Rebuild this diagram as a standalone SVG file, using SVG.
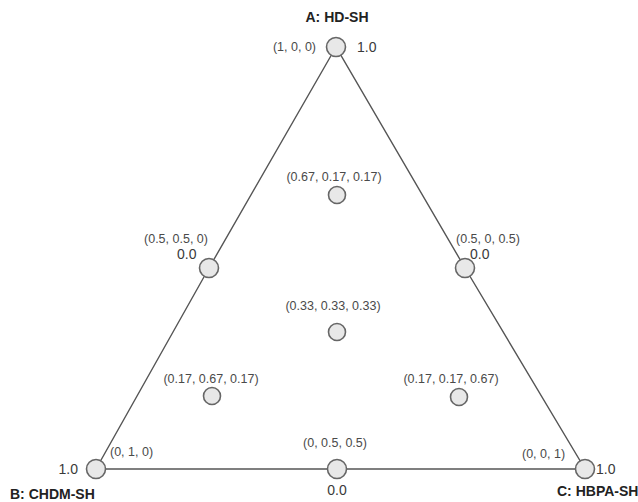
<svg xmlns="http://www.w3.org/2000/svg" width="638" height="502" viewBox="0 0 638 502">
<style>
  .edge{fill:none;stroke:#555;stroke-width:1.4}
  .pt{fill:#e8e8e8;stroke:#666;stroke-width:1.6}
  .co{font-family:"Liberation Sans",Arial,sans-serif;font-size:12.5px;fill:#4a4a4a}
  .val{font-family:"Liberation Sans",Arial,sans-serif;font-size:14px;fill:#3a3a3a}
  .ttl{font-family:"Liberation Sans",Arial,sans-serif;font-size:14px;font-weight:bold;fill:#222}
</style>
<rect width="638" height="502" fill="#fff"/>
<g id="connectors">
  <path class="edge" d="M336,47 L209,268 L96,469 L337,469 L585,469 L465,268 Z"/>
</g>
<g id="A">
  <text class="ttl" x="337" y="22" text-anchor="middle">A: HD-SH</text>
  <text class="co" x="316" y="51" text-anchor="end">(1, 0, 0)</text>
  <text class="val" x="357" y="52">1.0</text>
  <circle class="pt" cx="336" cy="47" r="9.5"/>
</g>
<g id="P1">
  <text class="co" x="334" y="181" text-anchor="middle">(0.67, 0.17, 0.17)</text>
  <circle class="pt" cx="337" cy="195" r="8.5"/>
</g>
<g id="AB">
  <text class="co" x="176" y="243" text-anchor="middle">(0.5, 0.5, 0)</text>
  <text class="val" x="177" y="259">0.0</text>
  <circle class="pt" cx="209" cy="268" r="9.5"/>
</g>
<g id="AC">
  <text class="co" x="488" y="243" text-anchor="middle">(0.5, 0, 0.5)</text>
  <text class="val" x="470" y="259">0.0</text>
  <circle class="pt" cx="465" cy="268" r="9.5"/>
</g>
<g id="P2">
  <text class="co" x="333" y="310" text-anchor="middle">(0.33, 0.33, 0.33)</text>
  <circle class="pt" cx="337" cy="332" r="8.5"/>
</g>
<g id="P3">
  <text class="co" x="211" y="383" text-anchor="middle">(0.17, 0.67, 0.17)</text>
  <circle class="pt" cx="212" cy="396" r="8.5"/>
</g>
<g id="P4">
  <text class="co" x="451" y="383" text-anchor="middle">(0.17, 0.17, 0.67)</text>
  <circle class="pt" cx="459" cy="397" r="8.5"/>
</g>
<g id="B">
  <text class="co" x="110" y="456">(0, 1, 0)</text>
  <text class="val" x="78" y="474" text-anchor="end">1.0</text>
  <text class="ttl" x="10" y="499">B: CHDM-SH</text>
  <circle class="pt" cx="96" cy="469" r="9.5"/>
</g>
<g id="BC">
  <text class="co" x="335" y="447" text-anchor="middle">(0, 0.5, 0.5)</text>
  <text class="val" x="337" y="495" text-anchor="middle">0.0</text>
  <circle class="pt" cx="337" cy="469" r="9.5"/>
</g>
<g id="C">
  <text class="co" x="522" y="458">(0, 0, 1)</text>
  <text class="val" x="596" y="474">1.0</text>
  <text class="ttl" x="557" y="496">C: HBPA-SH</text>
  <circle class="pt" cx="585" cy="469" r="9.5"/>
</g>
</svg>
